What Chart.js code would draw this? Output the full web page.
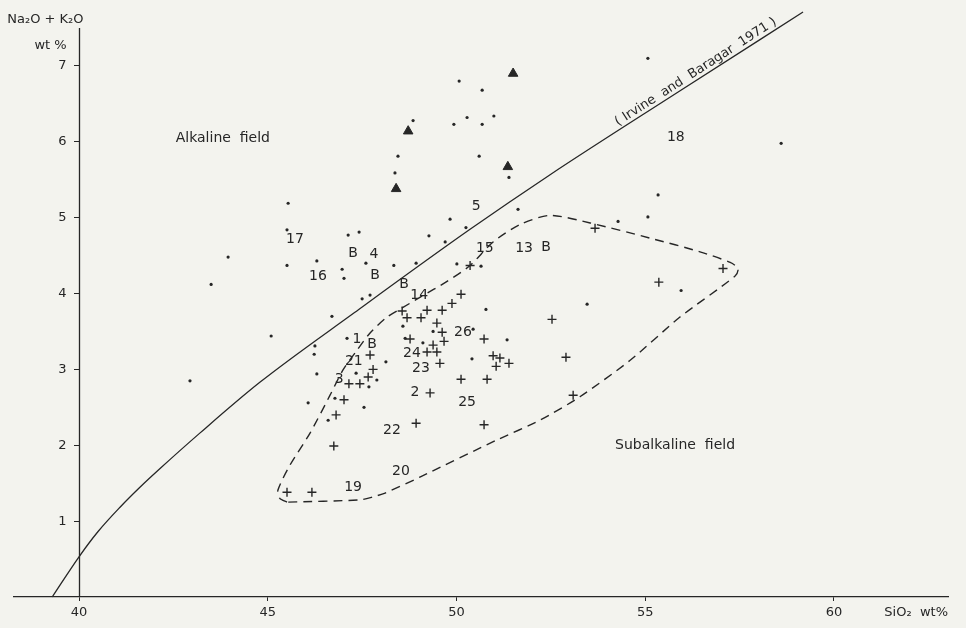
<!DOCTYPE html>
<html>
<head>
<meta charset="utf-8">
<script src="https://cdn.jsdelivr.net/npm/chart.js@4"></script>
<style>
  html, body { margin: 0; padding: 0; background: #f3f3ee; }
  #wrap { width: 966px; height: 628px; }
</style>
</head>
<body>
<div id="wrap"><canvas id="chart"></canvas></div>
<script>
// axis ticks
const xTicks = [40, 45, 50, 55, 60];
const yTicks = [1, 2, 3, 4, 5, 6, 7];

// samples plotted as dots (SiO2, Na2O+K2O)
const dotSiO2 = [50.07, 50.68, 48.85, 49.93, 50.28, 50.68, 50.99, 50.60, 48.45, 48.37,
  51.39, 51.63, 49.83, 50.25, 49.27, 49.70, 54.28, 55.07, 58.60, 55.34,
  55.07, 55.95, 53.46, 48.34, 48.93, 50.01, 50.65, 50.78, 48.58, 49.38,
  50.44, 51.34, 48.64, 49.11, 48.13, 50.41, 46.70, 45.09, 46.25, 46.23,
  47.10, 47.34, 46.30, 47.68, 47.89, 46.78, 46.07, 47.55, 46.60, 45.54,
  45.51, 43.95, 45.51, 46.30, 46.97, 47.02, 47.13, 47.42, 47.60, 43.50,
  47.50, 47.71, 42.94];
const dotAlk = [6.80, 6.68, 6.28, 6.23, 6.32, 6.23, 6.34, 5.81, 5.81, 5.59,
  5.53, 5.11, 4.98, 4.87, 4.76, 4.68, 4.95, 7.10, 5.98, 5.30,
  5.01, 4.04, 3.86, 4.37, 4.40, 4.39, 4.36, 3.79, 3.57, 3.50,
  3.53, 3.39, 3.41, 3.35, 3.10, 3.14, 3.70, 3.44, 3.31, 3.20,
  3.41, 2.95, 2.94, 2.77, 2.86, 2.62, 2.56, 2.50, 2.33, 5.19,
  4.84, 4.48, 4.37, 4.43, 4.32, 4.20, 4.77, 4.81, 4.40, 4.12,
  3.93, 3.98, 2.85];

// samples plotted as crosses
const crossSiO2 = [53.67, 57.06, 55.36, 52.53, 52.90, 53.09, 50.36, 50.12, 49.88, 49.62,
  49.22, 48.56, 48.69, 49.06, 49.48, 49.62, 50.73, 48.77, 49.38, 49.67,
  49.22, 49.48, 49.56, 50.97, 51.15, 51.05, 51.39, 50.12, 50.81, 49.30,
  50.73, 48.93, 47.71, 47.79, 47.66, 47.15, 47.44, 47.02, 46.81, 46.75,
  45.51, 46.17];
const crossAlk = [4.86, 4.33, 4.15, 3.66, 3.16, 2.66, 4.37, 3.99, 3.87, 3.78,
  3.78, 3.77, 3.68, 3.68, 3.61, 3.49, 3.40, 3.40, 3.32, 3.37,
  3.23, 3.23, 3.08, 3.18, 3.15, 3.04, 3.08, 2.87, 2.87, 2.69,
  2.27, 2.29, 3.19, 3.00, 2.90, 2.81, 2.81, 2.60, 2.40, 1.99,
  1.38, 1.38];

// samples plotted as triangles
const triSiO2 = [51.50, 48.72, 51.36, 48.40];
const triAlk = [6.90, 6.14, 5.67, 5.38];

// Irvine and Baragar (1971) dividing line
const curveSiO2 = [39.29, 40.00, 40.50, 41.08, 41.60, 42.14, 43.20, 44.79, 47.30, 50.34, 52.46, 55.82, 59.18];
const curveAlk = [0.00, 0.53, 0.86, 1.18, 1.44, 1.69, 2.16, 2.83, 3.75, 4.84, 5.56, 6.64, 7.71];

// dashed envelope around the crosses
const envSiO2 = [45.51, 45.32, 45.27, 45.59, 46.12, 46.65, 46.99, 47.36, 47.71, 48.16,
  48.56, 49.03, 49.75, 50.36, 50.97, 51.68, 52.48, 53.54, 55.13, 56.45,
  57.25, 57.46, 57.38, 55.92, 54.60, 53.27, 52.21, 51.07, 49.03, 48.11,
  47.79, 47.44, 45.51];
const envAlk = [1.25, 1.30, 1.41, 1.74, 2.16, 2.66, 2.99, 3.25, 3.48, 3.69,
  3.81, 3.95, 4.16, 4.37, 4.68, 4.91, 5.03, 4.93, 4.73, 4.55,
  4.41, 4.33, 4.23, 3.69, 3.12, 2.64, 2.33, 2.07, 1.58, 1.37,
  1.32, 1.28, 1.25];

// sample numbers and B marks
const labelText = ['17', '16', 'B', '4', 'B', 'B', '14', '5', '15', '13', 'B', '18',
  '1', 'B', '21', '3', '24', '23', '26', '2', '25', '22', '20', '19'];
const labelSiO2 = [45.72, 46.33, 47.26, 47.81, 47.84, 48.61, 49.01, 50.52, 50.75, 51.79, 52.37, 55.81,
  47.36, 47.76, 47.28, 46.89, 48.82, 49.06, 50.17, 48.90, 50.28, 48.29, 48.53, 47.26];
const labelAlk = [4.72, 4.23, 4.53, 4.52, 4.24, 4.12, 3.97, 5.15, 4.59, 4.59, 4.61, 6.06,
  3.39, 3.33, 3.10, 2.87, 3.21, 3.02, 3.49, 2.70, 2.57, 2.20, 1.66, 1.45];

// field names
const fieldText = ['Alkaline  field', 'Subalkaline  field'];
const fieldSiO2 = [43.81, 55.79];
const fieldAlk = [6.05, 2.00];

const ink = '#262626';
const font = '"DejaVu Sans", sans-serif';

const pts = (xs, ys) => xs.map((x, i) => ({ x, y: ys[i] }));

const annotate = {
  id: 'annotate',
  afterDatasetsDraw(chart) {
    const { ctx, scales: { x, y }, chartArea } = chart;
    ctx.save();
    ctx.fillStyle = ink;
    ctx.textAlign = 'center';
    ctx.textBaseline = 'middle';

    ctx.font = '14px ' + font;
    labelText.forEach((t, i) => {
      ctx.fillText(t, x.getPixelForValue(labelSiO2[i]), y.getPixelForValue(labelAlk[i]));
    });
    fieldText.forEach((t, i) => {
      ctx.fillText(t, x.getPixelForValue(fieldSiO2[i]), y.getPixelForValue(fieldAlk[i]));
    });

    // reference line label, rotated along the upper straight part
    const n = curveSiO2.length;
    const ang = Math.atan2(
      y.getPixelForValue(curveAlk[n - 1]) - y.getPixelForValue(curveAlk[n - 3]),
      x.getPixelForValue(curveSiO2[n - 1]) - x.getPixelForValue(curveSiO2[n - 3]));
    ctx.save();
    ctx.translate(x.getPixelForValue(56.34), y.getPixelForValue(6.92));
    ctx.rotate(ang);
    ctx.font = '13px ' + font;
    ctx.fillText('( Irvine  and  Baragar  1971 )', 0, 0);
    ctx.restore();

    // y axis line (from 0 up to 7.5)
    ctx.strokeStyle = ink;
    ctx.lineWidth = 1.3;
    ctx.beginPath();
    const x40 = Math.round(x.getPixelForValue(40)) + 0.5;
    ctx.moveTo(x40, y.getPixelForValue(0));
    ctx.lineTo(x40, chartArea.top);
    ctx.stroke();

    // axis titles
    ctx.font = '13px ' + font;
    ctx.textAlign = 'right';
    ctx.fillText('Na\u2082O + K\u2082O', x40 + 4, chartArea.top - 8);
    ctx.textAlign = 'center';
    ctx.fillText('wt %', x40 - 29, chartArea.top + 18);
    ctx.textAlign = 'right';
    ctx.fillText('SiO\u2082  wt%', chartArea.right, chartArea.bottom + 16);
    ctx.restore();
  }
};

new Chart(document.getElementById('chart'), {
  type: 'scatter',
  data: {
    datasets: [
      {
        data: pts(curveSiO2, curveAlk),
        showLine: true,
        borderColor: ink,
        borderWidth: 1.3,
        pointRadius: 0,
        cubicInterpolationMode: 'monotone',
        clip: false
      },
      {
        data: pts(envSiO2, envAlk),
        showLine: true,
        borderColor: ink,
        borderWidth: 1.4,
        borderDash: [9, 6],
        pointRadius: 0,
        tension: 0.25
      },
      {
        data: pts(dotSiO2, dotAlk),
        pointStyle: 'circle',
        pointRadius: 1.6,
        backgroundColor: ink,
        borderWidth: 0
      },
      {
        data: pts(crossSiO2, crossAlk),
        pointStyle: 'cross',
        pointRadius: 4.5,
        borderColor: ink,
        borderWidth: 1.4
      },
      {
        data: pts(triSiO2, triAlk),
        pointStyle: 'triangle',
        pointRadius: 5.5,
        backgroundColor: ink,
        borderColor: ink,
        borderWidth: 1
      }
    ]
  },
  options: {
    responsive: true,
    maintainAspectRatio: false,
    animation: false,
    events: [],
    layout: { padding: { top: 28, left: 14, right: 18, bottom: 0 } },
    plugins: { legend: { display: false }, tooltip: { enabled: false } },
    scales: {
      x: {
        type: 'linear',
        min: 38.278,
        max: 63.02,
        afterBuildTicks: s => { s.ticks = xTicks.map(v => ({ value: v })); },
        afterFit: s => { s.height = 31; },
        grid: { drawOnChartArea: false, tickLength: 4, color: ink },
        border: { color: ink, width: 1.3 },
        ticks: { color: ink, font: { family: font, size: 13 }, padding: 4, maxRotation: 0 }
      },
      y: {
        type: 'linear',
        position: { x: 40 },
        min: 0,
        max: 7.5,
        afterBuildTicks: s => { s.ticks = yTicks.map(v => ({ value: v })); },
        grid: { drawOnChartArea: false, tickLength: 5, color: ink },
        border: { display: false },
        ticks: { color: ink, font: { family: font, size: 13 }, callback: v => v + '   ' }
      }
    }
  },
  plugins: [annotate]
});
</script>
</body>
</html>
